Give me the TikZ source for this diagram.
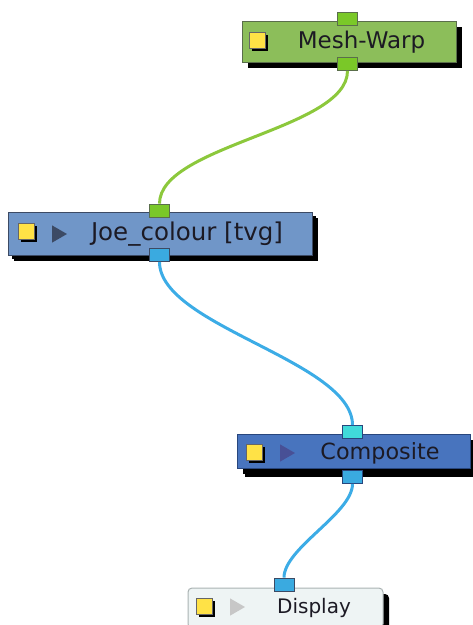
\documentclass[tikz,border=0pt]{standalone}
\usepackage{fontspec}
\setmainfont{DejaVu Sans}
\usetikzlibrary{shapes.geometric}
\usetikzlibrary{shadows}

\definecolor{meshfill}{RGB}{140,190,90}
\definecolor{meshedge}{RGB}{90,110,75}
\definecolor{joefill}{RGB}{112,150,200}
\definecolor{joeedge}{RGB}{60,74,100}
\definecolor{compfill}{RGB}{72,116,190}
\definecolor{compedge}{RGB}{40,70,125}
\definecolor{compplay}{RGB}{72,80,150}
\definecolor{dispfill}{RGB}{238,244,244}
\definecolor{dispedge}{RGB}{170,178,178}
\definecolor{portgreen}{RGB}{122,200,40}
\definecolor{portblue}{RGB}{58,170,224}
\definecolor{portcyan}{RGB}{64,218,218}
\definecolor{wiregreen}{RGB}{140,200,60}
\definecolor{wireblue}{RGB}{60,172,230}
\definecolor{chkyellow}{RGB}{255,226,70}
\definecolor{txtdark}{RGB}{28,26,36}

\newcommand{\fsz}[1]{\fontsize{#1}{#1}\selectfont}

\begin{document}
\begin{tikzpicture}[
    x=1pt, y=1pt,
    every node/.style={font=\fsz{22}, text=txtdark},
    module/.style={draw, line width=1pt, inner sep=0pt,
        drop shadow={shadow xshift=6pt, shadow yshift=-6pt, fill=black, opacity=1}},
    port/.style={draw, line width=0.8pt, minimum width=20pt, minimum height=13pt, inner sep=0pt},
    check/.style={draw=black!60, line width=0.6pt, fill=chkyellow, minimum size=16pt, inner sep=0pt,
        drop shadow={shadow xshift=3pt, shadow yshift=-3pt, fill=black, opacity=1}},
    play/.style={regular polygon, regular polygon sides=3, shape border rotate=-90,
        minimum size=20pt, inner sep=0pt, fill=#1},
    wire/.style={line width=3pt, draw=#1, looseness=0.65}
]
\useasboundingbox (0,0) rectangle (473,-625);
\clip (0,0) rectangle (473,-625);

% modules
\node[module, fill=meshfill, draw=meshedge, minimum width=214pt, minimum height=41pt] (meshwarp) at (349,-41.5) {};
\node[module, fill=joefill, draw=joeedge, minimum width=304pt, minimum height=43pt,
      drop shadow={shadow xshift=4pt, shadow yshift=-4pt, fill=black, opacity=1}] (joecolour) at (160,-233.5) {};
\node[module, fill=compfill, draw=compedge, minimum width=233pt, minimum height=34pt,
      drop shadow={shadow xshift=8pt, shadow yshift=-9pt, fill=black, opacity=1}] (composite) at (353.5,-451) {};
\node[module, fill=dispfill, draw=dispedge, rounded corners=4pt, minimum width=195pt, minimum height=40pt] (display) at (285.5,-608) {};

% checkboxes
\node[check] (meshcheck) at (257,-40) {};
\node[check] (joecheck) at (26,-231) {};
\node[check] (compcheck) at (254,-452) {};
\node[check] (dispcheck) at (204,-606) {};

% play arrows
\node[play={joeedge}] (joeplay) at (57,-234) {};
\node[play={compplay}] (compplay) at (285,-453) {};
\node[play={black!22}] (dispplay) at (235,-607) {};

% labels
\node[font=\fsz{23}] (meshtext) at (361.5,-42) {Mesh-Warp};
\node[font=\fsz{24.5}] (joetext) at (187,-234) {Joe\_colour [tvg]};
\node[font=\fsz{22.3}] (comptext) at (380,-453) {Composite};
\node[font=\fsz{20}] (disptext) at (314,-608) {Display};

% ports
\node[port, fill=portgreen, draw=meshedge] (meshin) at (347.5,-18.5) {};
\node[port, fill=portgreen, draw=meshedge] (meshout) at (347.5,-64) {};
\node[port, fill=portgreen, draw=meshedge] (joein) at (159.5,-210.5) {};
\node[port, fill=portblue, draw=joeedge] (joeout) at (159.5,-255) {};
\node[port, fill=portcyan, draw=compedge] (compin) at (352.5,-432) {};
\node[port, fill=portblue, draw=compedge] (compout) at (352.5,-477) {};
\node[port, fill=portblue, draw=joeedge] (dispin) at (284,-584.5) {};

% wires
\draw[wire=wiregreen] (meshout.south) to[out=-90, in=90] (joein.north);
\draw[wire=wireblue] (joeout.south) to[out=-90, in=90] (compin.north);
\draw[wire=wireblue] (compout.south) to[out=-90, in=90] (dispin.north);
\end{tikzpicture}
\end{document}
